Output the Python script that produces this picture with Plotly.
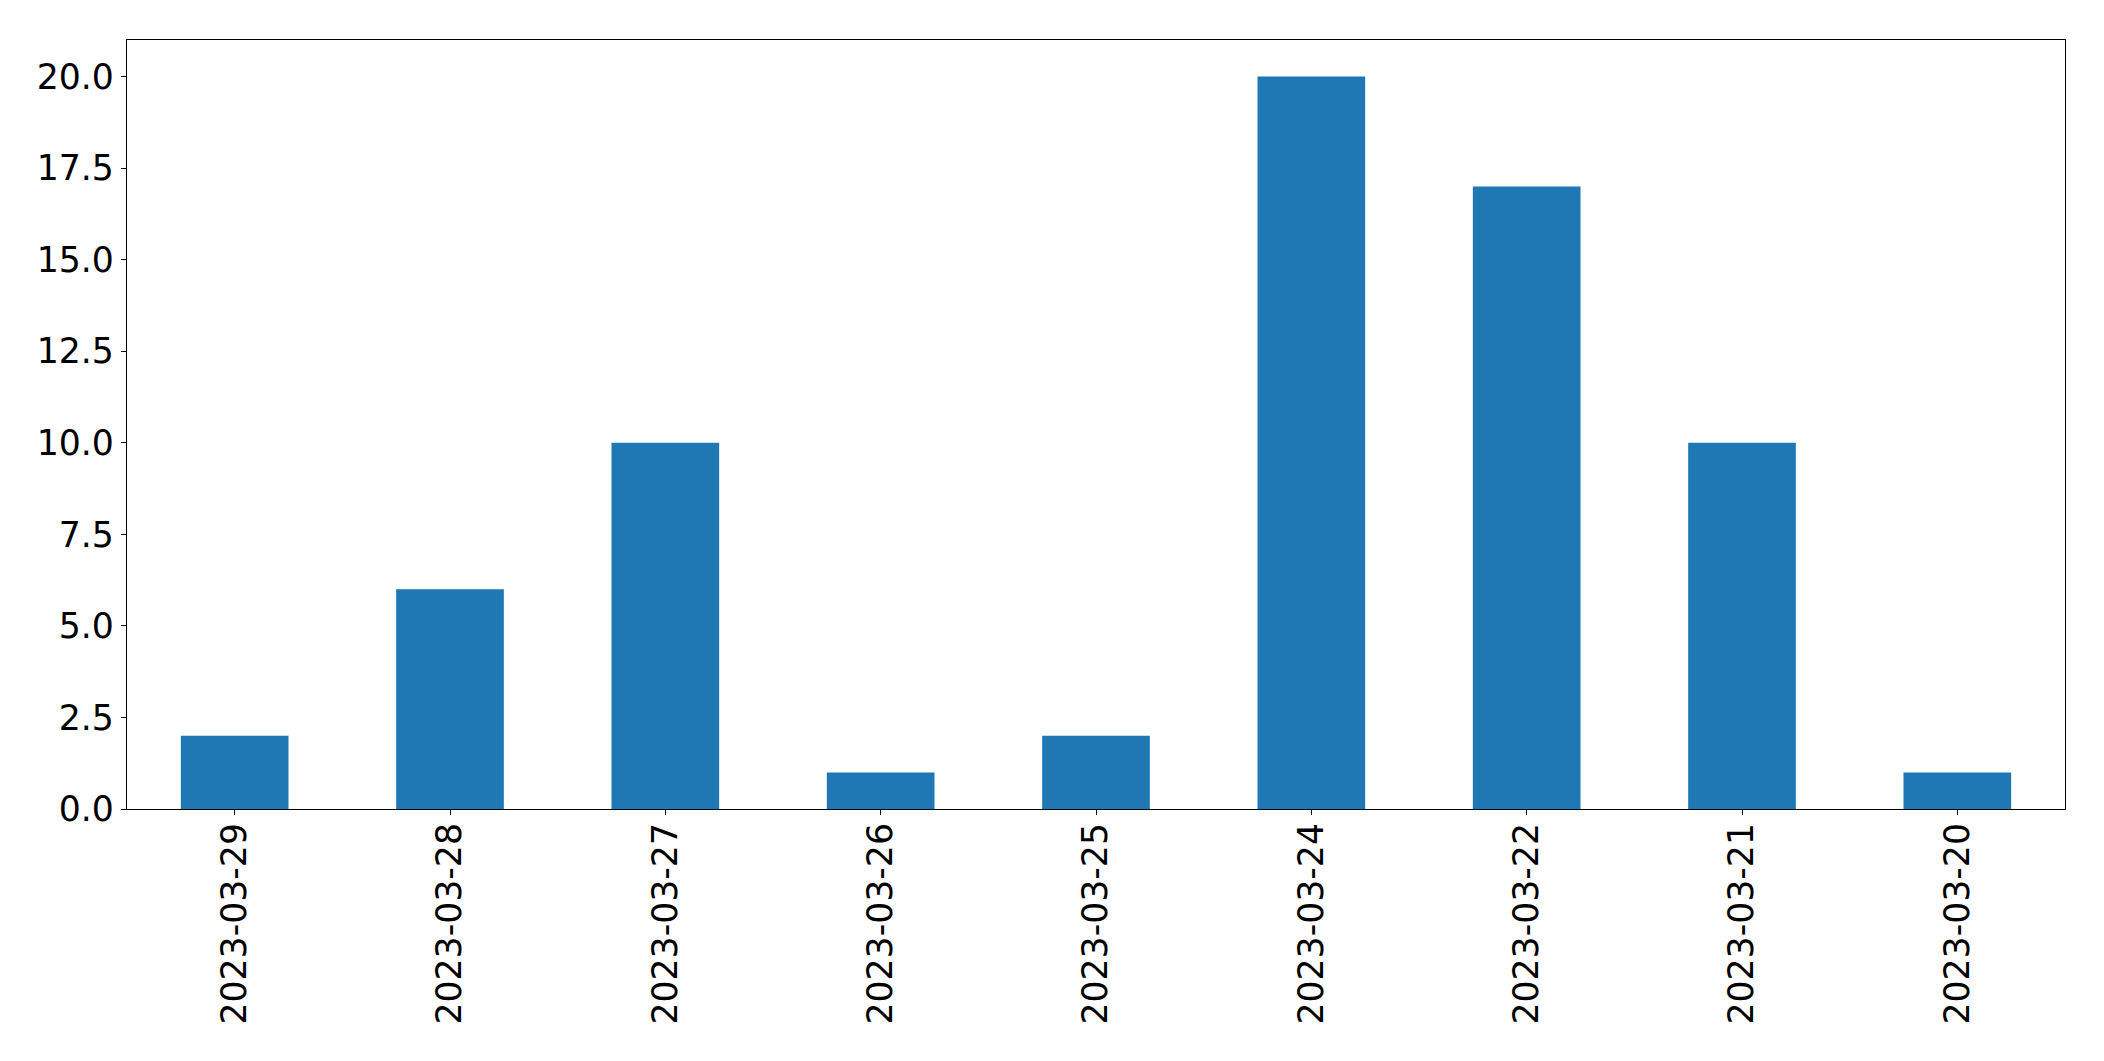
import plotly.graph_objects as go

dates = ["2023-03-29", "2023-03-28", "2023-03-27", "2023-03-26", "2023-03-25",
         "2023-03-24", "2023-03-22", "2023-03-21", "2023-03-20"]
counts = [2, 6, 10, 1, 2, 20, 17, 10, 1]

fig = go.Figure(go.Bar(x=dates, y=counts, marker=dict(color="#1f77b4", line=dict(width=0)), width=0.5))

fig.update_layout(
    width=2104, height=1061,
    margin=dict(l=127, r=39, t=40, b=252),
    paper_bgcolor="white", plot_bgcolor="white",
    font=dict(family="DejaVu Sans", size=34.7, color="black"),
    showlegend=False,
)
fig.update_xaxes(
    type="category", range=[-0.5, 8.5],
    tickangle=-90, ticks="outside", ticklen=5, tickwidth=1.3, tickcolor="black",
    ticklabelstandoff=-6,
    showline=True, mirror=True, linecolor="black", linewidth=1.3,
    showgrid=False, zeroline=False,
)
fig.update_yaxes(
    range=[0, 21], tick0=0, dtick=2.5, tickformat=".1f",
    ticks="outside", ticklen=5, tickwidth=1.3, tickcolor="black",
    showline=True, mirror=True, linecolor="black", linewidth=1.3,
    showgrid=False, zeroline=False,
)

fig.write_html("out.html", config={"displayModeBar": False},
               post_script="document.body.style.margin='0px';document.body.style.overflow='hidden';")
